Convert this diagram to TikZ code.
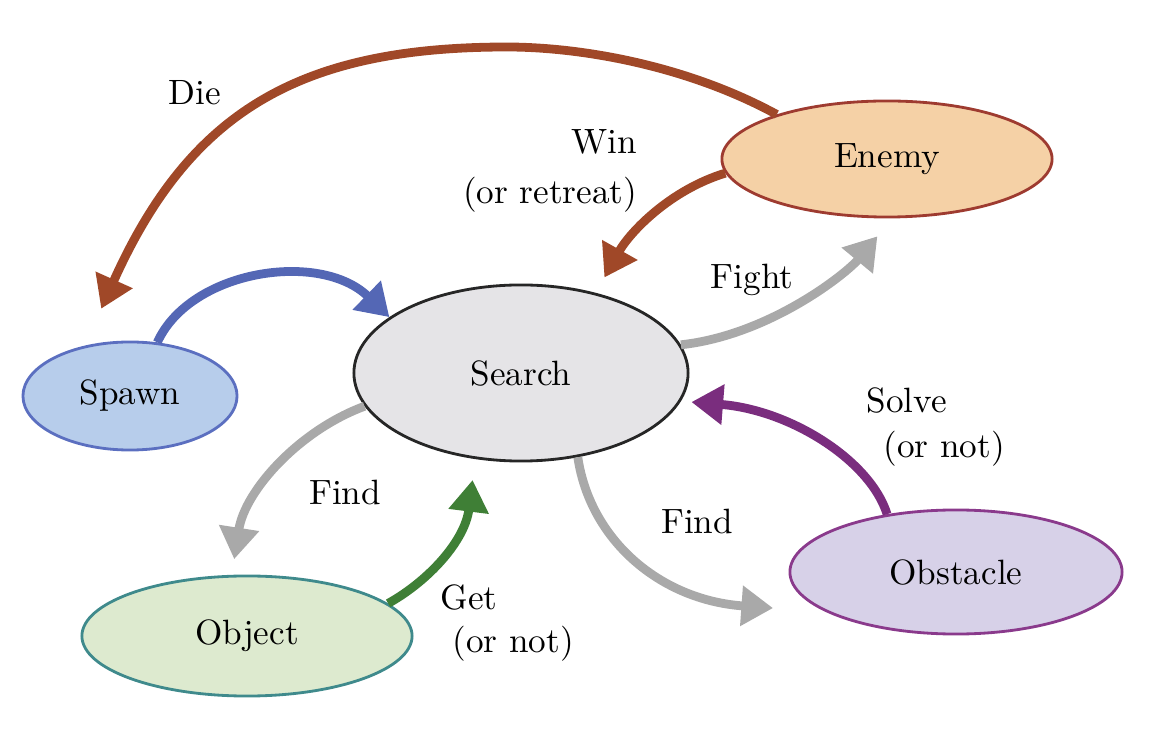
\documentclass[tikz,border=0pt]{standalone}
\usepackage[usenames,dvipsnames]{xcolor}
\definecolor{EnemyFill}{HTML}{F5D1A6}
\definecolor{EnemyLine}{HTML}{9E3B30}
\definecolor{SearchFill}{HTML}{E5E4E7}
\definecolor{SpawnFill}{HTML}{B7CDEB}
\definecolor{SpawnLine}{HTML}{5B6FC0}
\definecolor{ObjectFill}{HTML}{DDEACF}
\definecolor{ObjectLine}{HTML}{3F8A8C}
\definecolor{ObstacleFill}{HTML}{D7D1E8}
\definecolor{ObstacleLine}{HTML}{8A3A8C}
\definecolor{DieBrown}{HTML}{A04828}
\definecolor{SpawnBlue}{HTML}{5467B5}
\definecolor{FindGrey}{HTML}{A9A9A9}
\definecolor{SolvePurple}{HTML}{7A2D7E}
\definecolor{GetGreen}{HTML}{3F7F36}
\usepackage{tikz}
\usetikzlibrary{shapes.geometric, arrows.meta}
\tikzstyle{state} = [ellipse, inner sep=0pt, text centered, line width=0.8pt]
\tikzstyle{arrow} = [line width=2.5pt, -{Triangle[length=9pt,width=11pt]}]
\tikzstyle{lbl} = [inner sep=0pt]

\begin{document}
\begin{tikzpicture}[x=0.01cm, y=-0.01cm]
  \useasboundingbox (0,0) rectangle (1154,740);

  \node (enemy) [state, draw=EnemyLine, fill=EnemyFill, minimum width=3.3cm, minimum height=1.16cm] at (887,159) {Enemy};
  \node (search) [state, draw=black!85, fill=SearchFill, minimum width=3.34cm, minimum height=1.76cm] at (521,373) {Search};
  \node (spawn) [state, draw=SpawnLine, fill=SpawnFill, minimum width=2.14cm, minimum height=1.08cm] at (130,396) {Spawn};
  \node (object) [state, draw=ObjectLine, fill=ObjectFill, minimum width=3.3cm, minimum height=1.2cm] at (247,636) {Object};
  \node (obstacle) [state, draw=ObstacleLine, fill=ObstacleFill, minimum width=3.32cm, minimum height=1.24cm] at (956,572) {Obstacle};

  \node (lbldie) [lbl] at (195,93) {Die};
  \node (lblwin) [lbl, align=right, anchor=east] at (638,171) {Win\\[2pt](or retreat)};
  \node (lblfight) [lbl] at (752,280) {Fight};
  \node (lblsolve) [lbl, align=left, anchor=west] at (866,427) {Solve\\[1pt]\hspace{4.8pt}(or not)};
  \node (lblfindobj) [lbl] at (345,492) {Find};
  \node (lblfindobs) [lbl] at (697,521) {Find};
  \node (lblget) [lbl, align=left, anchor=west] at (440,623) {Get\\\hspace{3.4pt}(or not)};

  \draw [arrow, DieBrown, shorten >=11.5pt] (enemy.158) .. controls (686,65) and (580,47) .. (507,47)
    .. controls (300,47) and (190,111) .. (spawn.132);
  \draw [arrow, DieBrown, shorten >=5pt] (enemy.185) .. controls (670,190) and (630,232) .. (search.47);
  \draw [arrow, SpawnBlue] (spawn.63) .. controls (190,270) and (320,250) .. (search.157);
  \draw [arrow, FindGrey, shorten >=6.6pt] (search.10) .. controls (770,335) and (847,273) .. (enemy.275);
  \draw [arrow, SolvePurple, shorten >=3pt] (obstacle.140) .. controls (870,460) and (790,410) .. (search.-10);
  \draw [arrow, FindGrey, shorten >=15pt] (search.-56) .. controls (590,540) and (660,600) .. (obstacle.197);
  \draw [arrow, FindGrey, shorten >=4.5pt] (search.192) .. controls (300,430) and (245,490) .. (object.104);
  \draw [arrow, GetGreen, shorten >=6pt] (object.13) .. controls (430,580) and (465,540) .. (search.242);

\end{tikzpicture}
\end{document}
